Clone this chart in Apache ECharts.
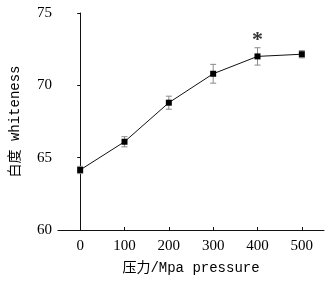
<!DOCTYPE html>
<html>
<head>
<meta charset="utf-8">
<script src="https://cdn.jsdelivr.net/npm/echarts@6/dist/echarts.min.js"></script>
<style>
  html, body { margin: 0; padding: 0; background: #fff; }
  #chart { width: 330px; height: 282px; }
</style>
</head>
<body>
<div id="chart"></div>
<script>
// pressure (MPa) vs whiteness
const pressure = [0, 100, 200, 300, 400, 500];
const whiteness = [64.15, 66.1, 68.8, 70.8, 72.0, 72.15];
const errors = [0.25, 0.35, 0.45, 0.65, 0.6, 0.25];
const xTicks = [0, 100, 200, 300, 400, 500];
const yTicks = [60, 65, 70, 75];
const starAt = [400, 72.0];

const labelFont = '"Liberation Serif", serif';
const nameFont = '"Liberation Mono", "Noto Sans CJK SC", monospace';

let chart = echarts.init(document.getElementById('chart'));

let lineData = pressure.map((p, i) => [p, whiteness[i]]);
let errData = pressure.map((p, i) => [p, whiteness[i] - errors[i], whiteness[i] + errors[i]]);

let option = {
  animation: false,
  grid: { left: 52, top: 13, right: 6, bottom: 52 },
  xAxis: {
    type: 'value',
    min: -50,
    max: 550,
    name: '压力/Mpa pressure',
    nameLocation: 'middle',
    nameGap: 31,
    nameTextStyle: { fontFamily: nameFont, fontSize: 14, color: '#000' },
    axisLine: { show: true, lineStyle: { color: '#111', width: 1 } },
    axisTick: { show: true, inside: true, length: 3, customValues: xTicks, lineStyle: { color: '#111' } },
    axisLabel: { customValues: xTicks, fontFamily: labelFont, fontSize: 15, color: '#000', margin: 9 },
    splitLine: { show: false }
  },
  yAxis: {
    type: 'value',
    min: 60,
    max: 75,
    interval: 5,
    name: '白度 whiteness',
    nameLocation: 'middle',
    nameGap: 36,
    nameTextStyle: { fontFamily: nameFont, fontSize: 14, color: '#000' },
    axisLine: { show: true, lineStyle: { color: '#111', width: 1 } },
    axisTick: { show: true, length: 3, lineStyle: { color: '#111' } },
    axisLabel: { fontFamily: labelFont, fontSize: 15, color: '#000', margin: 6,
      formatter: v => yTicks.includes(v) ? String(v) : '' },
    splitLine: { show: false }
  },
  series: [
    {
      type: 'custom',
      data: errData,
      z: 1,
      renderItem: function (params, api) {
        let x = api.value(0);
        let lo = api.coord([x, api.value(1)]);
        let hi = api.coord([x, api.value(2)]);
        let w = 3;
        let style = { stroke: '#8a8a8a', lineWidth: 1 };
        return {
          type: 'group',
          children: [
            { type: 'line', shape: { x1: lo[0], y1: lo[1], x2: hi[0], y2: hi[1] }, style: style },
            { type: 'line', shape: { x1: lo[0] - w, y1: lo[1], x2: lo[0] + w, y2: lo[1] }, style: style },
            { type: 'line', shape: { x1: hi[0] - w, y1: hi[1], x2: hi[0] + w, y2: hi[1] }, style: style }
          ]
        };
      }
    },
    {
      type: 'line',
      data: lineData,
      z: 2,
      symbol: 'rect',
      symbolSize: 6,
      itemStyle: { color: '#000' },
      lineStyle: { color: '#111', width: 1 }
    },
    {
      // significance marker
      type: 'scatter',
      data: [starAt],
      z: 3,
      symbolSize: 0,
      silent: true,
      label: {
        show: true,
        position: 'inside',
        formatter: '*',
        offset: [0, -16],
        fontSize: 22,
        fontWeight: 'bold',
        fontFamily: labelFont,
        color: '#000'
      }
    }
  ]
};

chart.setOption(option);
</script>
</body>
</html>
